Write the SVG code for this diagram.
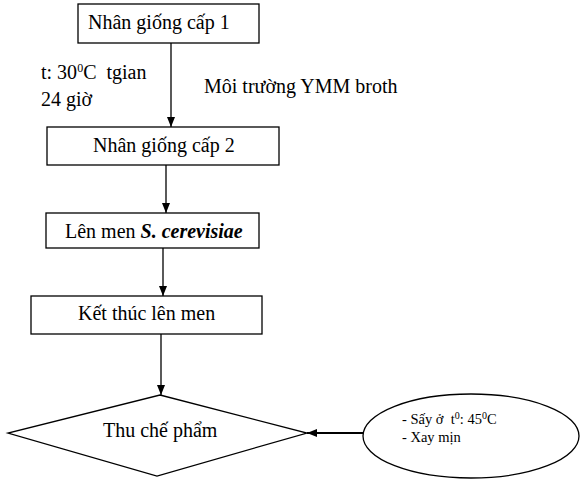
<svg xmlns="http://www.w3.org/2000/svg" width="585" height="491" viewBox="0 0 585 491">
<defs>
<style>
.box{fill:#fff;stroke:#000;stroke-width:1.3}
.t{font-family:"Liberation Serif","Times New Roman",serif;font-size:20px;fill:#000;white-space:pre}
.s{font-family:"Liberation Serif","Times New Roman",serif;font-size:14.5px;fill:#000;white-space:pre}
.c{stroke:#000;stroke-width:1.3;fill:none}
</style>
<marker id="ah" viewBox="0 0 10 10" refX="10" refY="5" markerWidth="10" markerHeight="10" markerUnits="userSpaceOnUse" orient="auto">
<path d="M0,1 L10,5 L0,9 Z" fill="#000"/>
</marker>
</defs>
<rect width="585" height="491" fill="#fff"/>
<g id="connectors">
<line class="c" x1="171" y1="43" x2="171" y2="127" marker-end="url(#ah)"/>
<line class="c" x1="166" y1="165" x2="166" y2="213" marker-end="url(#ah)"/>
<line class="c" x1="163" y1="248" x2="163" y2="296" marker-end="url(#ah)"/>
<line class="c" x1="161" y1="334" x2="161" y2="395" marker-end="url(#ah)"/>
<line class="c" x1="363" y1="433" x2="307" y2="433" style="stroke-width:2" marker-end="url(#ah)"/>
</g>
<g id="label-conditions">
<text class="t" x="41" y="79" xml:space="preserve">t: 30<tspan font-size="12" dy="-7">0</tspan><tspan dy="7">C  tgian</tspan></text>
<text class="t" x="41" y="106">24 giờ</text>
<text class="t" x="204" y="93">Môi trường YMM broth</text>
</g>
<g id="n1">
<rect class="box" x="78" y="4" width="181" height="39"/>
<text class="t" x="88" y="29">Nhân giống cấp 1</text>
</g>
<g id="n2">
<rect class="box" x="47" y="127" width="232" height="38"/>
<text class="t" x="93" y="152">Nhân giống cấp 2</text>
</g>
<g id="n3">
<rect class="box" x="46" y="213" width="213" height="35"/>
<text class="t" x="65" y="238">Lên men <tspan font-weight="bold" font-style="italic">S. cerevisiae</tspan></text>
</g>
<g id="n4">
<rect class="box" x="31" y="296" width="231" height="38"/>
<text class="t" x="78" y="320">Kết thúc lên men</text>
</g>
<g id="n5">
<polygon class="box" points="160,395 307,433 157,476 8,433"/>
<text class="t" x="103" y="437">Thu chế phẩm</text>
</g>
<g id="n6">
<ellipse class="box" cx="471" cy="436" rx="108" ry="42"/>
<text class="s" x="402" y="424" xml:space="preserve">- Sấy ở  t<tspan font-size="10" dy="-5">0</tspan><tspan dy="5">: 45</tspan><tspan font-size="10" dy="-5">0</tspan><tspan dy="5">C</tspan></text>
<text class="s" x="402" y="442">- Xay mịn</text>
</g>
</svg>
